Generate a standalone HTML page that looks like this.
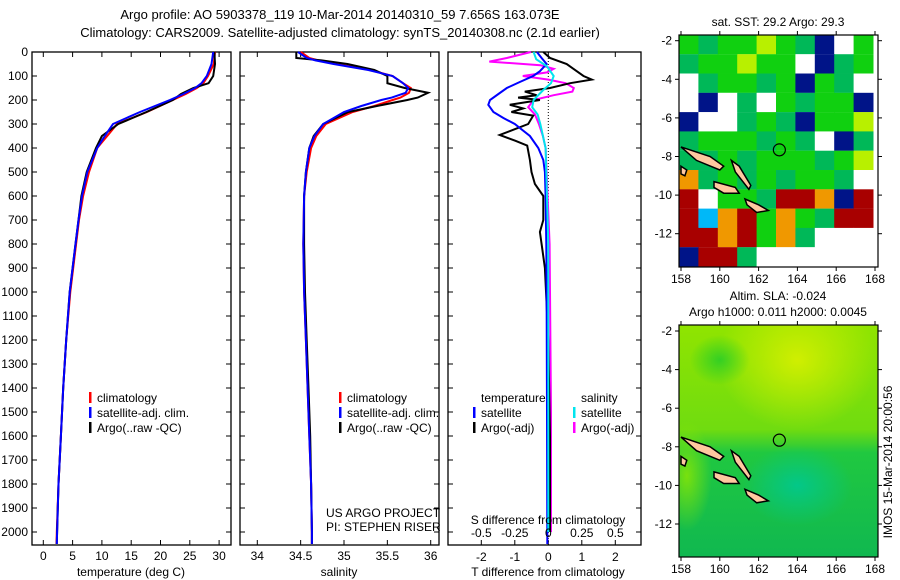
<!DOCTYPE html>
<html><head><meta charset="utf-8">
<style>
html,body{margin:0;padding:0;background:#fff;}
svg{display:block;font-family:"Liberation Sans",sans-serif;}
text{font-size:12px;fill:#000;}
</style></head>
<body>
<svg id="fig" width="900" height="580" xmlns="http://www.w3.org/2000/svg">
<defs>
<clipPath id="clip1"><rect x="679" y="35" width="199" height="232"/></clipPath>
<clipPath id="clip2"><rect x="679" y="325" width="199" height="232"/></clipPath>
<linearGradient id="lin2" x1="0" y1="0" x2="0" y2="1">
<stop offset="0" stop-color="#90e400"/><stop offset="0.45" stop-color="#70dc10"/>
<stop offset="0.55" stop-color="#20c840"/><stop offset="1" stop-color="#10b850"/>
</linearGradient>
</defs>
<text x="340" y="19" text-anchor="middle" style="font-size:13px">Argo profile: AO 5903378_119 10-Mar-2014 20140310_59 7.656S 163.073E</text>
<text x="340" y="37" text-anchor="middle" style="font-size:13px">Climatology: CARS2009. Satellite-adjusted climatology: synTS_20140308.nc (2.1d earlier)</text>
<g id="g1"></g>
<g id="g2"></g>
<g id="g3"></g>
<g id="m1"></g>
<g id="m2"></g>
<text transform="translate(892,462) rotate(-90)" text-anchor="middle">IMOS 15-Mar-2014 20:00:56</text>
</svg>
<script>
// ---- data ----
const depths = [0,50,100,130,150,175,200,250,300,350,400,500,600,700,800,1000,1200,1400,1600,1800,2000,2050];
const tempClim = [29.3,29.1,28.1,27.3,26.2,24.3,22.1,17.7,12.6,10.9,9.2,7.8,6.8,6.1,5.6,4.6,3.9,3.4,3.0,2.6,2.3,2.25];
const tempSat = [29.0,28.7,27.9,27.0,25.9,23.9,21.6,16.5,11.9,10.5,9.2,7.5,6.6,6.0,5.5,4.5,3.9,3.4,3.0,2.6,2.35,2.3];
const tempArgo = [29.2,29.3,29.0,28.2,25.6,23.5,22.1,17.6,12.8,10.0,9.0,7.4,6.5,6.0,5.5,4.5,3.9,3.4,3.0,2.6,2.35,2.3];
const salDepths = [0,25,35,50,75,100,130,150,170,190,200,225,250,300,350,400,500,600,800,1000,1200,1400,1600,1800,2000,2050];
const salClim = [34.5,34.6,34.7,34.91,35.3,35.56,35.68,35.77,35.75,35.65,35.56,35.35,35.1,34.79,34.68,34.62,34.57,34.54,34.53,34.54,34.56,34.58,34.6,34.62,34.63,34.63];
const salSat = [34.47,34.57,34.67,34.88,35.28,35.56,35.68,35.74,35.71,35.55,35.43,35.2,35.0,34.76,34.66,34.6,34.56,34.54,34.53,34.54,34.56,34.58,34.6,34.62,34.63,34.63];
const salArgo = [34.45,34.45,34.74,35.04,35.35,35.5,35.5,35.7,35.97,35.85,35.73,35.38,35.05,34.76,34.65,34.6,34.56,34.54,34.54,34.55,34.57,34.59,34.61,34.62,34.63,34.63];
const tSatDepths = [0,25,50,80,100,125,150,175,200,220,250,275,300,350,400,450,500,600,800,1000,1500,2000,2050];
const tSatDiff = [-0.34,-0.2,-0.05,-0.25,-0.45,-0.85,-1.24,-1.49,-1.74,-1.79,-1.64,-1.34,-1.0,-0.55,-0.3,-0.15,-0.1,-0.08,-0.06,-0.05,-0.04,-0.03,-0.03];
const tArgoDepths = [0,25,50,70,100,115,130,150,165,180,190,200,220,235,250,265,300,346,370,390,450,500,550,600,700,750,800,900,1200,1600,2000];
const tArgoDiff = [-0.15,0.05,0.55,0.75,1.05,1.3,0.65,0.05,-0.7,-0.35,-0.9,-0.25,-1.15,-0.75,-1.1,-0.45,-0.6,-1.45,-0.98,-0.63,-0.55,-0.5,-0.4,-0.15,-0.15,-0.25,-0.2,-0.1,0.0,0.05,0.05];
const sArgoDepths = [0,25,40,55,70,85,100,115,130,150,165,180,200,230,260,300,350,400,800,1500,2000];
const sArgoDiff = [-0.13,-0.31,-0.44,-0.06,0.04,-0.01,-0.19,0.0,0.13,0.19,0.18,0.04,-0.11,-0.15,-0.1,-0.07,-0.04,-0.02,0.01,0.02,0.02];
const sSatDepths = [0,30,60,100,130,160,200,230,260,300,400,800,2000];
const sSatDiff = [-0.11,-0.09,-0.01,0.04,0.02,-0.04,-0.11,-0.12,-0.08,-0.06,-0.02,0,0];
const depthTicks = [0,100,200,300,400,500,600,700,800,900,1000,1100,1200,1300,1400,1500,1600,1700,1800,1900,2000];
const tempTicks = [0,5,10,15,20,25,30];
const salTicks = [34,34.5,35,35.5,36];
const tDiffTicks = [-2,-1,0,1,2];
const sDiffTicks = [-0.5,-0.25,0,0.25,0.5];
const sDiffLabels = ["-0.5","-0.25","0","0.25","0.5"];
const lonTicks = [158,160,162,164,166,168];
const latTicks = [-2,-4,-6,-8,-10,-12];
const sstGrid = ["GgGGyGgDWG","gGGyGGWDgG","WgGGgGDGgW","WDWgWGgGGD","DWWgGgDGGy","gGGGgGgWDg","ggGgGGGgGy","OgGgGgGGgW","RWGGgRRODR","RcORGOGgRR","RRORGOgWWW","DRRgWWWWWW"];

const NS="http://www.w3.org/2000/svg";
function el(parent,tag,attrs,txt){const e=document.createElementNS(NS,tag);for(const k in attrs)e.setAttribute(k,attrs[k]);if(txt!==undefined)e.textContent=txt;parent.appendChild(e);return e;}
const top0=52, bot=545;
const yD = d => top0 + 0.24*d;

function frame(g,x0,x1,name){
  const r=el(g,'rect',{x:x0,y:top0,width:x1-x0,height:bot-top0,fill:'#fff',stroke:'#000','stroke-width':1.3});
  
  
  depthTicks.forEach(d=>{
    el(g,'line',{x1:x0,x2:x0+5,y1:yD(d),y2:yD(d),stroke:'#000'});
    el(g,'line',{x1:x1-5,x2:x1,y1:yD(d),y2:yD(d),stroke:'#000'});
  });
}
function line(g,xs,ds,fx,color,name,w){
  const pts=xs.map((v,i)=>fx(v).toFixed(1)+','+yD(ds[i]).toFixed(1)).join(' ');
  const p=el(g,'polyline',{points:pts,fill:'none',stroke:color,'stroke-width':w||2});
  
  
}
function xTicks(g,vals,labels,fx,ly){
  vals.forEach((v,i)=>{
    el(g,'line',{x1:fx(v),x2:fx(v),y1:top0,y2:top0+5,stroke:'#000'});
    el(g,'line',{x1:fx(v),x2:fx(v),y1:bot-5,y2:bot,stroke:'#000'});
    const t=el(g,'text',{x:fx(v),y:ly,'text-anchor':'middle'},labels[i]);
    
    
  });
}
function legend(g,x,y,items){
  items.forEach((it,i)=>{
    el(g,'rect',{x:x,y:y+i*15-10,width:2.5,height:11,fill:it[1]});
    const t=el(g,'text',{x:x+8,y:y+i*15},it[0]);
    
    
  });
}

// Panel 1
const g1=document.getElementById('g1');
const fT=t=>43.3+5.86*t;
frame(g1,32,231,'temperature-axes');
depthTicks.forEach(d=>{const t=el(g1,'text',{x:28,y:yD(d)+4,'text-anchor':'end'},String(d));
  
  });
xTicks(g1,tempTicks,tempTicks.map(String),fT,560);
line(g1,tempClim,depths,fT,'#ff0000','temperature-climatology-line');
line(g1,tempArgo,depths,fT,'#000','temperature-argo-line');
line(g1,tempSat,depths,fT,'#0000ff','temperature-satellite-line');
el(g1,'text',{x:131,y:576,'text-anchor':'middle'},'temperature (deg C)');
legend(g1,89,402,[['climatology','#f00'],['satellite-adj. clim.','#00f'],['Argo(..raw -QC)','#000']]);

// Panel 2
const g2=document.getElementById('g2');
const fS=s=>257.3+86.7*(s-34);
frame(g2,240,439,'salinity-axes');
xTicks(g2,salTicks,salTicks.map(String),fS,560);
line(g2,salClim,salDepths,fS,'#ff0000','salinity-climatology-line');
line(g2,salArgo,salDepths,fS,'#000','salinity-argo-line');
line(g2,salSat,salDepths,fS,'#0000ff','salinity-satellite-line');
el(g2,'text',{x:339,y:576,'text-anchor':'middle'},'salinity');
legend(g2,339,402,[['climatology','#f00'],['satellite-adj. clim.','#00f'],['Argo(..raw -QC)','#000']]);
el(g2,'text',{x:326,y:517},'US ARGO PROJECT');
el(g2,'text',{x:326,y:531},'PI: STEPHEN RISER');

// Panel 3
const g3=document.getElementById('g3');
const fTd=t=>548.3+33.5*t;
const fSd=s=>548.3+134*s;
frame(g3,448,641,'difference-axes');
xTicks(g3,tDiffTicks,tDiffTicks.map(String),fTd,561);
el(g3,'line',{x1:548.3,x2:548.3,y1:top0,y2:bot,stroke:'#000','stroke-dasharray':'1,2'});
line(g3,sArgoDiff,sArgoDepths,fSd,'#ff00ff','salinity-argo-diff-line');
line(g3,tArgoDiff,tArgoDepths,fTd,'#000','temperature-argo-diff-line');
line(g3,tSatDiff,tSatDepths,fTd,'#0000ff','temperature-satellite-diff-line');
line(g3,sSatDiff,sSatDepths,fSd,'#00e5ee','salinity-satellite-diff-line');
sDiffTicks.forEach((v,i)=>{const t=el(g3,'text',{x:fSd(v),y:537,'text-anchor':'middle'},sDiffLabels[i]);
  
  });
el(g3,'text',{x:548,y:524,'text-anchor':'middle'},'S difference from climatology');
el(g3,'text',{x:548,y:576,'text-anchor':'middle'},'T difference from climatology');
el(g3,'text',{x:481,y:402},'temperature');
el(g3,'text',{x:581,y:402},'salinity');
legend(g3,473,417,[['satellite','#00f'],['Argo(-adj)','#000']]);
legend(g3,573,417,[['satellite','#00e5ee'],['Argo(-adj)','#f0f']]);

// Maps
const fLon=l=>681+19.4*(l-158);
function mapAxes(g,y0,y1,latY,lbly){
  el(g,'rect',{x:679,y:y0,width:199,height:y1-y0,fill:'none',stroke:'#000','stroke-width':1.2});
  lonTicks.forEach(l=>{el(g,'line',{x1:fLon(l),x2:fLon(l),y1:y1,y2:y1+4,stroke:'#000'});
    el(g,'line',{x1:fLon(l),x2:fLon(l),y1:y0-4,y2:y0,stroke:'#000'});
    const t=el(g,'text',{x:fLon(l),y:lbly,'text-anchor':'middle'},String(l));
    
    });
  latTicks.forEach(a=>{el(g,'line',{x1:675,x2:679,y1:latY(a),y2:latY(a),stroke:'#000'});
    el(g,'line',{x1:878,x2:882,y1:latY(a),y2:latY(a),stroke:'#000'});
    const t=el(g,'text',{x:672,y:latY(a)+4,'text-anchor':'end'},String(a));
    
    });
}
function islands(g,latY){
  const isl=[[[158,-7.5],[159.5,-8.0],[160.2,-8.5],[160,-8.7],[158.8,-8.2]],
    [[159.7,-9.3],[160.8,-9.6],[161.0,-9.9],[160.2,-9.9],[159.7,-9.6]],
    [[160.6,-8.2],[161.0,-8.5],[161.6,-9.5],[161.5,-9.7],[160.8,-8.8]],
    [[161.3,-10.2],[162.0,-10.5],[162.5,-10.8],[161.9,-10.9],[161.4,-10.5]],
    [[158,-8.5],[158.3,-8.7],[158.2,-9.0],[158,-8.9]]];
  isl.forEach(p=>{const s=el(g,'polygon',{points:p.map(q=>fLon(q[0]).toFixed(1)+','+latY(q[1]).toFixed(1)).join(' '),fill:'#ffc8a0',stroke:'#000','stroke-width':1.5});
    
    });
  const c=el(g,'circle',{cx:fLon(163.07),cy:latY(-7.656),r:6,fill:'none',stroke:'#000','stroke-width':1.2});
  
  
}
const m1=document.getElementById('m1');
const lat1=a=>40.7+19.3*(-2-a);
const cmap={G:'#10d010',g:'#00b858',y:'#b8f000',D:'#001488',W:'#ffffff',R:'#a80000',O:'#f09800',c:'#00b8f8'};
const c1=el(m1,'g',{'clip-path':'url(#clip1)'});
sstGrid.forEach((row,r)=>{[...row].forEach((ch,c)=>{
  const cell=el(c1,'rect',{x:fLon(158+c)-2,y:lat1(-1.7-r),width:19.9,height:19.4,fill:cmap[ch]});
  
  
});});
islands(c1,lat1);
mapAxes(m1,35,267,lat1,283);
el(m1,'text',{x:778,y:26,'text-anchor':'middle'},'sat. SST: 29.2 Argo: 29.3');

const m2=document.getElementById('m2');
const lat2=a=>331+19.3*(-2-a);
const defs=el(m2,'defs',{});
function rg(id,col,op){const g=el(defs,'radialGradient',{id:id});el(g,'stop',{offset:'0','stop-color':col,'stop-opacity':op});el(g,'stop',{offset:'1','stop-color':col,'stop-opacity':0});}
rg('gy','#d8f000',0.9);rg('gt','#00c890',0.9);rg('gl','#90e800',0.8);rg('gd','#10c830',0.7);
const c2=el(m2,'g',{'clip-path':'url(#clip2)'});
el(c2,'rect',{x:679,y:325,width:199,height:232,fill:'url(#lin2)'});
el(c2,'ellipse',{cx:fLon(164),cy:lat2(-3.5),rx:80,ry:70,fill:'url(#gy)'});
el(c2,'ellipse',{cx:fLon(158.3),cy:lat2(-9.5),rx:25,ry:55,fill:'url(#gl)'});
el(c2,'ellipse',{cx:fLon(164),cy:lat2(-10),rx:55,ry:40,fill:'url(#gt)'});
el(c2,'ellipse',{cx:fLon(160),cy:lat2(-3.5),rx:30,ry:25,fill:'url(#gd)'});
islands(c2,lat2);
mapAxes(m2,325,557,lat2,573);
el(m2,'text',{x:778,y:300,'text-anchor':'middle'},'Altim. SLA: -0.024');
el(m2,'text',{x:778,y:316,'text-anchor':'middle'},'Argo h1000: 0.011 h2000: 0.0045');
</script>
</body></html>
